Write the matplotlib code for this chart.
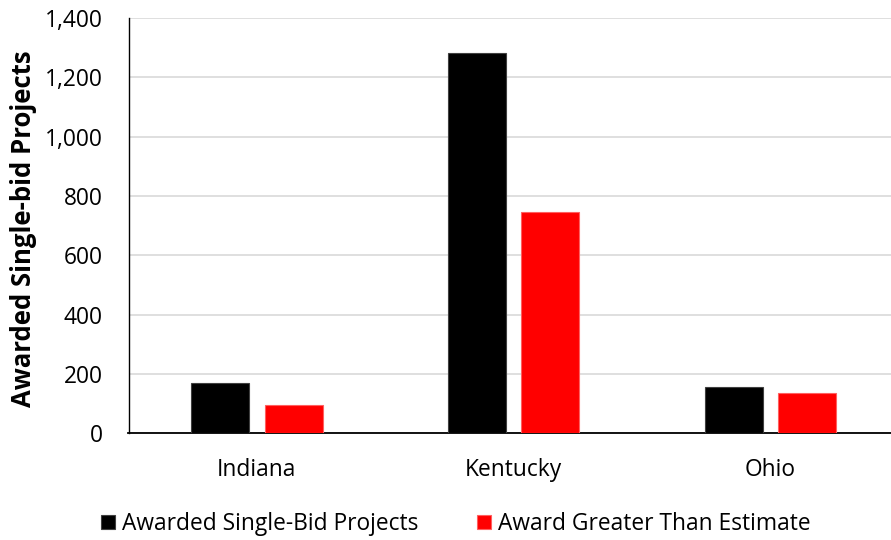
import matplotlib
matplotlib.use("Agg")
import matplotlib.pyplot as plt
import numpy as np
from matplotlib.ticker import FuncFormatter

plt.rcParams['font.family'] = ['Open Sans', 'DejaVu Sans']

states = ["Indiana", "Kentucky", "Ohio"]
single_bid = [170, 1281, 157]
greater_than_est = [96, 746, 135]
series_names = ["Awarded Single-Bid Projects", "Award Greater Than Estimate"]
y_ticks = [0, 200, 400, 600, 800, 1000, 1200, 1400]

W, H = 891, 540
fig = plt.figure(figsize=(W/100, H/100), dpi=100)
left, right, top, bottom = 128.5, 899, 18, 433.3
ax = fig.add_axes([left/W, 1 - bottom/H, (right-left)/W, (bottom-top)/H])

x = np.arange(len(states))
bw = 0.226
off = 0.143
ax.bar(x - off, single_bid, bw, color="#000000", edgecolor="#404040", linewidth=0.8,
       label=series_names[0], zorder=3)
ax.bar(x + off, greater_than_est, bw, color="#ff0000", edgecolor="#ff6060", linewidth=0.8,
       label=series_names[1], zorder=3)

ax.set_xlim(-0.5, 2.5)
ax.set_ylim(0, 1400)
ax.set_yticks(y_ticks)
ax.yaxis.set_major_formatter(FuncFormatter(lambda v, p: f"{int(v):,}"))
ax.set_xticks(x)
ax.set_xticklabels(states)
ax.tick_params(axis='both', length=0, labelsize=16.4, colors="#000000")
ax.tick_params(axis='y', pad=18.5)
ax.tick_params(axis='x', pad=18)
ax.grid(axis='y', color="#d9d9d9", linewidth=1.2, zorder=0)
ax.set_axisbelow(True)
for s in ["top", "right"]:
    ax.spines[s].set_visible(False)
ax.spines["left"].set_color("#000000")
ax.spines["bottom"].set_color("#000000")
ax.spines["left"].set_linewidth(1.0)
ax.spines["bottom"].set_linewidth(1.3)

ax.set_ylabel("Awarded Single-bid Projects", fontsize=18.5, fontweight="bold")
ax.yaxis.set_label_coords((37 - left) / (right - left), (bottom - 229) / (bottom - top))

fig.legend(loc="center", bbox_to_anchor=(456/W, 1 - 524/H), ncol=2, frameon=False,
           fontsize=16.4, handlelength=0.6, handleheight=0.6, handletextpad=0.3,
           columnspacing=2.6, borderpad=0, borderaxespad=0)

fig.savefig("out.png", dpi=100)
